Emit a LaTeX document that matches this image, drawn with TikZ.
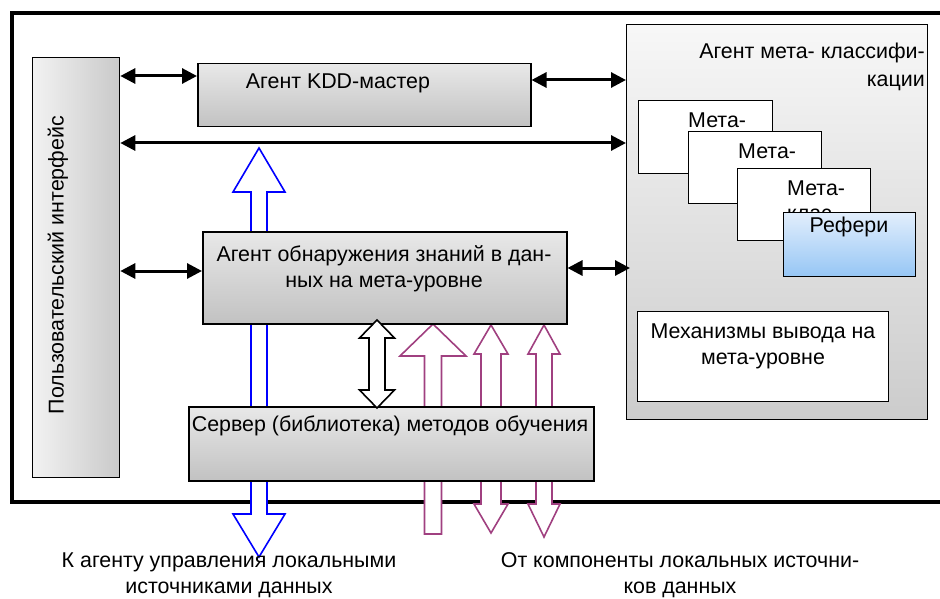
\documentclass[tikz,border=0pt]{standalone}
\usepackage{fontspec}
\setmainfont{Liberation Sans}
\usetikzlibrary{arrows.meta}
\definecolor{purp}{RGB}{160,64,128}
\definecolor{refTop}{RGB}{226,238,252}
\definecolor{refBot}{RGB}{150,198,245}
\begin{document}
\begin{tikzpicture}[x=1pt,y=-1pt,
  every node/.style={font=\fontsize{21.4}{26}\selectfont, inner sep=0pt},
  graybox/.style={draw=black, line width=1.5pt, top color=gray!18, bottom color=gray!48, minimum width=#1},
  biarrow/.style={line width=3pt, {Triangle[length=15pt,width=15pt]}-{Triangle[length=15pt,width=15pt]}},
  hollow/.style={line width=1.6pt, fill=white, line join=miter},
  whitebox/.style={draw=black, line width=1.3pt, fill=white, anchor=north west}
]
\clip (0,0) rectangle (940,599);
\useasboundingbox (0,0) rectangle (940,599);
\fill[white] (0,0) rectangle (940,599);

% outer frame
\draw[line width=4pt] (960,13) -- (12,13) -- (12,502) -- (960,502);

% user interface
\node[draw=black, line width=1.3pt, left color=gray!10, right color=gray!42,
      minimum width=87pt, minimum height=420pt, anchor=north west] (ui) at (32,57) {};
\node[rotate=90] at (58,265) {Пользовательский интерфейс};

% meta classification agent
\node[draw=black, line width=1.3pt, top color=gray!6, bottom color=gray!40,
      minimum width=301pt, minimum height=395pt, anchor=north west] (meta) at (626,24) {};
\node[anchor=north east, align=right, font=\fontsize{21.4}{28}\selectfont] (metat) at (925,43) {Агент мета- классифи-\\кации};

% stacked meta-classifier boxes
\node[whitebox, minimum width=134pt, minimum height=73pt] (m1) at (638,100) {};
\node[anchor=west] at (688,120) {Мета-};
\node[whitebox, minimum width=133pt, minimum height=72pt] (m2) at (688,131) {};
\node[anchor=west] at (738,151) {Мета-};
\node[whitebox, minimum width=133pt, minimum height=72pt] (m3) at (737,168) {};
\node[anchor=west] at (787,188) {Мета-};
\begin{scope}
\clip (737,168) rectangle (870,212);
\node[anchor=west] at (787,215) {клас-};
\end{scope}
\node[draw=black, line width=1.3pt, top color=refTop, bottom color=refBot,
      minimum width=132pt, minimum height=64pt, anchor=north west] (ref) at (783,212) {};
\node at (849,227) {Рефери};

% inference mechanisms
\node[whitebox, minimum width=251pt, minimum height=90pt] (mech) at (637,311) {};
\node[align=center] at (763,346) {Механизмы вывода на\\мета-уровне};

% hollow arrows (behind boxes)
\draw[hollow, draw=blue] (259,148) -- (285,192) -- (267,192) -- (267,514) -- (285,514) -- (259,557)
   -- (233,514) -- (251,514) -- (251,192) -- (233,192) -- cycle;
\draw[hollow, draw=purp] (433,324) -- (466,356) -- (441.5,356) -- (441.5,534) -- (424.5,534)
   -- (424.5,356) -- (400,356) -- cycle;
\draw[hollow, draw=purp] (491,325) -- (508,354) -- (501,354) -- (501,504) -- (508,504) -- (491,533)
   -- (474,504) -- (481,504) -- (481,354) -- (474,354) -- cycle;
\draw[hollow, draw=purp] (544,325) -- (560,354) -- (552,354) -- (552,504) -- (560,504) -- (544,537)
   -- (528,504) -- (536,504) -- (536,354) -- (528,354) -- cycle;

% KDD master
\node[graybox=333pt, minimum height=63pt, anchor=north west] (kdd) at (197,63) {};
\node at (338,83) {Агент KDD-мастер};

% discovery agent
\node[graybox=364pt, minimum height=92pt, anchor=north west] (disc) at (202,231) {};
\node[align=center] at (384,269) {Агент обнаружения знаний в дан-\\ных на мета-уровне};

% server
\node[graybox=405pt, minimum height=74pt, anchor=north west] (srv) at (188,406) {};
\node at (390,426) {Сервер (библиотека) методов обучения};

% black hollow double arrow between discovery agent and server
\draw[hollow, draw=black] (377,320) -- (394.5,338) -- (385,338) -- (385,390) -- (394.5,390) -- (377,408)
   -- (359.5,390) -- (369,390) -- (369,338) -- (359.5,338) -- cycle;

% black connectors
\coordinate (ya) at (0,76);
\coordinate (yb) at (0,80);
\coordinate (yc) at (0,143);
\coordinate (yd) at (0,271);
\coordinate (ye) at (0,268);
\draw[biarrow] (ui.east |- ya) -- (kdd.west |- ya);
\draw[biarrow] (kdd.east |- yb) -- (meta.west |- yb);
\draw[biarrow] (ui.east |- yc) -- (meta.west |- yc);
\draw[biarrow] (ui.east |- yd) -- (disc.west |- yd);
\draw[biarrow] (disc.east |- ye) -- ([xshift=4pt]meta.west |- ye);

% bottom labels
\node[align=center] at (229,575) {К агенту управления локальными\\источниками данных};
\node[align=center] at (680,575) {От компоненты локальных источни-\\ков данных};
\end{tikzpicture}
\end{document}
